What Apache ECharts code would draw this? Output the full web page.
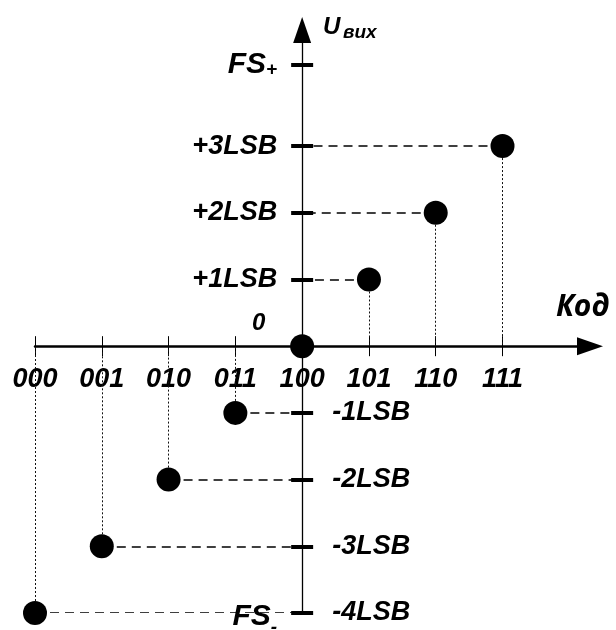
<!DOCTYPE html>
<html><head><meta charset="utf-8">
<script src="https://cdn.jsdelivr.net/npm/echarts@6/dist/echarts.min.js"></script>
<style>html,body{margin:0;padding:0;background:#fff}#c{width:616px;height:630px}</style>
</head><body><div id="c"></div>
<script>
// ---- data ----
const codes = ['000','001','010','011','100','101','110','111'];
const levelsLSB = [-4,-3,-2,-1,0,1,2,3];
const midCodeIndex = 4;               // code 100 sits on the vertical axis
const posTickValues = [1,2,3];
const posTickLabels = ['+1LSB','+2LSB','+3LSB'];
const negTickValues = [-1,-2,-3,-4];
const negTickLabels = ['-1LSB','-2LSB','-3LSB','-4LSB'];
const fsPlusLevel = 4.22;
const fsMinusLevel = -4;
const fsName = 'FS';
const fsPlusSub = '+';
const fsMinusSub = '-';
const xName = 'Код';
const yName = 'U';
const yNameSub = 'вих';
const originLabel = '0';

// ---- layout ----
const W = 616, H = 630;
const gridL = 35, gridR = 26, gridT = 30, gridB = 17;
const xMin = -4, xMax = 4.31, yMin = -4, yMax = 4.74;
const gw = W - gridL - gridR, gh = H - gridT - gridB;
const zeroFromLeft = (0 - xMin) / (xMax - xMin) * gw;
const zeroFromRight = (xMax - 0) / (xMax - xMin) * gw;
const zeroFromBottom = (0 - yMin) / (yMax - yMin) * gh;
const zeroFromTop = (yMax - 0) / (yMax - yMin) * gh;

const FONT = '"Liberation Sans", Arial, sans-serif';
const lblStyle = {fontFamily: FONT, fontWeight: 'bold', fontStyle: 'italic', fontSize: 27, color: '#000'};
const richBase = {fontFamily: FONT, fontWeight: 'bold', fontStyle: 'italic', color: '#000'};

const xTickValues = codes.map((c, i) => i - midCodeIndex);
const allYTicks = negTickValues.concat(posTickValues, [fsPlusLevel]);

function leftLabel(v) {
  if (Math.abs(v - fsPlusLevel) < 1e-6) return '{m|' + fsName + '}{s|' + fsPlusSub + '}';
  if (Math.abs(v - fsMinusLevel) < 1e-6) return '{m2|' + fsName + '}{s2|' + fsMinusSub + '}';
  const i = posTickValues.indexOf(v);
  return i >= 0 ? posTickLabels[i] : '';
}
function rightLabel(v) {
  const i = negTickValues.indexOf(v);
  return i >= 0 ? negTickLabels[i] : '';
}

const points = codes.map((c, i) => [i - midCodeIndex, levelsLSB[i]]);
const guides = [];
points.forEach(p => {
  if (p[1] === 0) return;
  guides.push({coords: [[p[0], p[1]], [0, p[1]]], lineStyle: {type: [9, 6], width: 1.5, color: '#000', opacity: 1}});
  guides.push({coords: [[p[0], p[1]], [p[0], 0]], lineStyle: {type: [2, 2], width: 1, color: '#111', opacity: 1}});
});

const chart = echarts.init(document.getElementById('c'), null, {renderer: 'canvas'});
chart.setOption({
  animation: false,
  backgroundColor: '#fff',
  grid: {left: gridL, right: gridR, top: gridT, bottom: gridB, containLabel: false, outerBoundsMode: 'none'},
  xAxis: [{
    type: 'value', min: xMin, max: xMax, interval: 1, position: 'bottom',
    offset: -zeroFromBottom,
    axisLine: {show: true, onZero: false, symbol: ['none', 'triangle'], symbolSize: [18, 26],
      lineStyle: {color: '#000', width: 2.5}},
    axisTick: {show: true, customValues: xTickValues, length: 10, lineStyle: {color: '#000', width: 1}},
    axisLabel: Object.assign({margin: 20, customValues: xTickValues, formatter: v => {
      const k = Math.round(v) + midCodeIndex;
      return codes[k] || '';
    }}, lblStyle),
    splitLine: {show: false}
  }, {
    type: 'value', min: xMin, max: xMax, interval: 1, position: 'top',
    offset: -zeroFromTop,
    axisLine: {show: false, onZero: false},
    axisTick: {show: true, customValues: xTickValues, length: 10, lineStyle: {color: '#000', width: 1}},
    axisLabel: {show: false},
    splitLine: {show: false}
  }],
  yAxis: [{
    type: 'value', min: yMin, max: yMax, position: 'left',
    offset: -zeroFromLeft,
    axisLine: {show: true, onZero: false, symbol: ['none', 'triangle'], symbolSize: [18, 26],
      lineStyle: {color: '#000', width: 1.3}},
    axisTick: {show: true, customValues: allYTicks, length: 11, lineStyle: {color: '#000', width: 4}},
    axisLabel: Object.assign({margin: 25, customValues: posTickValues.concat([fsPlusLevel, fsMinusLevel]),
      formatter: leftLabel,
      rich: {
        m: Object.assign({fontSize: 30, verticalAlign: 'top', lineHeight: 30}, richBase),
        s: Object.assign({fontSize: 19, verticalAlign: 'bottom', lineHeight: 18, padding: [20, 0, 0, 0]}, richBase),
        m2: Object.assign({fontSize: 30, verticalAlign: 'top', lineHeight: 30, padding: [4, 0, 0, 0]}, richBase),
        s2: Object.assign({fontSize: 19, verticalAlign: 'top', lineHeight: 18, padding: [20, 0, 0, 0]}, richBase)
      }}, lblStyle),
    splitLine: {show: false}
  }, {
    type: 'value', min: yMin, max: yMax, position: 'right',
    offset: -zeroFromRight,
    axisLine: {show: false, onZero: false},
    axisTick: {show: true, customValues: allYTicks, length: 11, lineStyle: {color: '#000', width: 4}},
    axisLabel: Object.assign({margin: 30, customValues: negTickValues, formatter: rightLabel}, lblStyle),
    splitLine: {show: false}
  }],
  series: [{
    type: 'lines', coordinateSystem: 'cartesian2d', xAxisIndex: 0, yAxisIndex: 0,
    silent: true, z: 1, lineStyle: {opacity: 1, color: '#000'}, data: guides
  }, {
    type: 'scatter', xAxisIndex: 0, yAxisIndex: 0, z: 5,
    symbol: 'circle', symbolSize: 24, itemStyle: {color: '#000', opacity: 1},
    data: points, silent: true
  }],
  graphic: [
    {type: 'text', x: 323, y: 27, z: 10, style: {text: yName, fontFamily: FONT, fontWeight: 'bold', fontStyle: 'italic', fontSize: 24, fill: '#000', align: 'left', verticalAlign: 'middle'}},
    {type: 'text', x: 343, y: 33, z: 10, style: {text: yNameSub, fontFamily: FONT, fontWeight: 'bold', fontStyle: 'italic', fontSize: 19, fill: '#000', align: 'left', verticalAlign: 'middle'}},
    {type: 'text', x: 556, y: 307, z: 10, style: {text: xName, fontFamily: '"Open Sans", "Noto Sans", sans-serif', fontWeight: 'bold', fontStyle: 'italic', fontSize: 30, fill: '#000', align: 'left', verticalAlign: 'middle'}},
    {type: 'text', x: 252, y: 323, z: 10, style: {text: originLabel, fontFamily: FONT, fontWeight: 'bold', fontStyle: 'italic', fontSize: 24, fill: '#000', align: 'left', verticalAlign: 'middle'}}
  ]
});
</script>
</body></html>
